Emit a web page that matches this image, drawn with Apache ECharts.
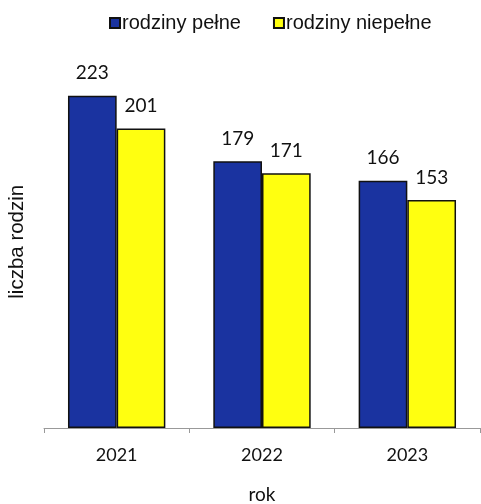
<!DOCTYPE html>
<html><head><meta charset="utf-8">
<script src="https://cdn.jsdelivr.net/npm/echarts@6/dist/echarts.min.js"></script>
<style>html,body{margin:0;padding:0;background:#fff}#c{width:481px;height:504px}</style>
</head><body><div id="c"></div>
<script>
const categories = ['2021', '2022', '2023'];
const fullFamilies = [223, 179, 166];
const singleParent = [201, 171, 153];
const seriesNames = ['rodziny pełne', 'rodziny niepełne'];

const chart = echarts.init(document.getElementById('c'));
const lbl = {show: true, position: 'top', distance: 13, color: '#111', fontSize: 19, fontFamily: 'Lato'};
chart.setOption({
  animation: false,
  legend: {
    top: 8, left: 104, icon: 'rect', itemWidth: 10, itemHeight: 10, itemGap: 32,
    textStyle: {fontFamily: 'Liberation Sans', fontSize: 20, color: '#111', padding: [0,0,0,-3]},
    data: seriesNames
  },
  grid: {left: 44, right: 1, top: 55.5, bottom: 76, containLabel: false, outerBoundsMode: 'none'},
  xAxis: {
    type: 'category', data: categories,
    name: 'rok', nameLocation: 'middle', nameGap: 57,
    nameTextStyle: {fontFamily: 'Lato', fontSize: 19, color: '#111'},
    axisLine: {lineStyle: {color: '#999', width: 1}},
    axisTick: {show: true, length: 5, lineStyle: {color: '#999'}},
    axisLabel: {fontFamily: 'Lato', fontSize: 18, color: '#111', margin: 18}
  },
  yAxis: {
    type: 'value', min: 0, max: 250,
    name: 'liczba rodzin', nameLocation: 'middle', nameGap: 16, nameRotate: 90,
    nameTextStyle: {fontFamily: 'Liberation Sans', fontSize: 20.5, color: '#111'},
    axisLine: {show: false}, axisTick: {show: false}, axisLabel: {show: false},
    splitLine: {show: false}
  },
  series: [
    {name: seriesNames[0], type: 'bar', data: fullFamilies, barGap: '0%', barCategoryGap: '33%',
     itemStyle: {color: '#1a33a0', borderColor: '#111', borderWidth: 1.5}, label: lbl},
    {name: seriesNames[1], type: 'bar', data: singleParent,
     itemStyle: {color: '#ffff10', borderColor: '#111', borderWidth: 1.5}, label: lbl}
  ]
});
</script></body></html>
